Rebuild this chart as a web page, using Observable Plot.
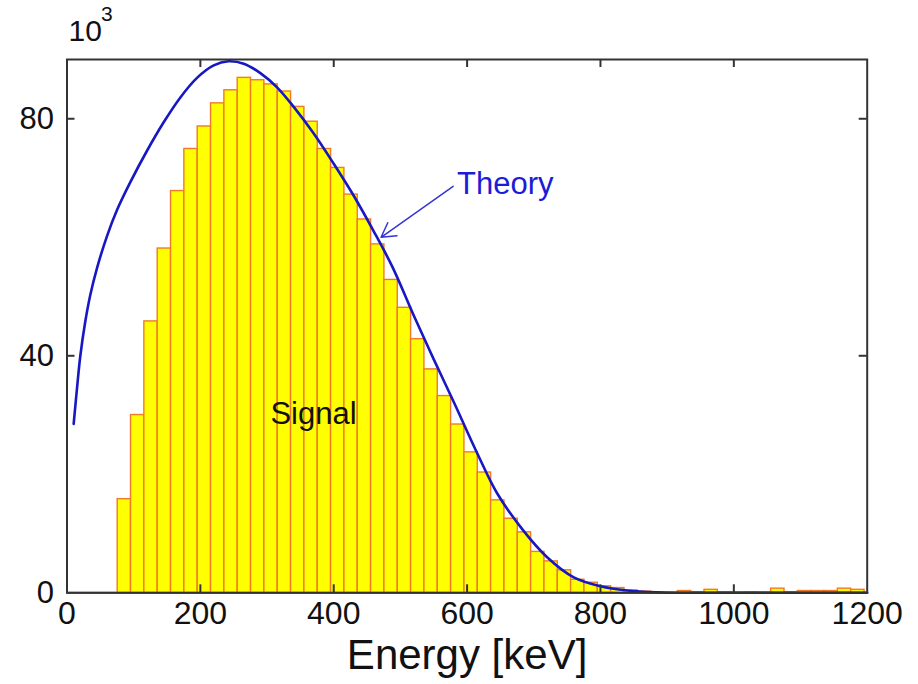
<!DOCTYPE html>
<html><head><meta charset="utf-8">
<script src="https://cdn.jsdelivr.net/npm/d3@7"></script>
<script src="https://cdn.jsdelivr.net/npm/@observablehq/plot@0.6"></script>
<style>body{margin:0;background:#fff}</style>
</head><body><div id="chart"></div>
<script>
// Histogram bins (lower edge, keV) and counts (x10^3)
const binLow = [76,96,116,136,156,176,196,216,236,256,276,296,316,336,356,376,396,416,436,456,476,496,516,536,556,576,596,616,636,656,676,696,716,736,756,776,796,816,836,856,876,896,916,936,956,976,996,1016,1036,1056,1076,1096,1116,1136,1156,1176];
const binWidth = 20;
const counts = [15.8,30.0,45.8,58.1,67.8,74.9,78.7,82.6,84.8,86.9,86.5,85.8,84.6,82.0,79.5,74.9,71.7,67.2,63.0,58.8,52.8,48.1,42.8,37.7,33.2,28.4,23.7,20.3,15.6,12.5,10.2,6.9,5.3,3.8,2.2,1.7,1.1,0.8,0.4,0.2,0.05,0,0.3,0.1,0.5,0.1,0.05,0.1,0.05,0.7,0.1,0.3,0.3,0.3,0.7,0.5];
// Theory curve (keV, x10^3)
const theoryE = [10,15,20,27,35,45,60,75,95,120,145,170,195,220,242,265,290,315,340,370,400,430,460,488,520,550,580,615,645,685,720,760,800,840,885,950,1050,1200];
const theoryN = [28.5,34.5,40.0,45.5,50.3,54.8,60.2,64.6,69.3,74.6,79.4,83.6,86.9,89.0,89.7,89.3,87.7,85.3,82.0,77.5,72.4,67.0,61.0,55.0,46.8,39.4,32.2,23.6,16.8,10.4,6.0,2.6,1.1,0.4,0.1,0,0,0];
const xTicks = [0,200,400,600,800,1000,1200];
const yTicks = [0,40,80];
const labelText = ["Theory","Signal"];
const labelE = [585,305];
const labelN = [68.9,30.2];
const arrowFrom = {e:579, n:68.6};
const arrowTo = {e:471, n:60.0};

const bins = binLow.map((x, i) => ({x1: x, x2: x + binWidth, n: counts[i]}));
const theory = theoryE.map((e, i) => ({e, n: theoryN[i]}));
const labels = labelText.map((t, i) => ({t, e: labelE[i], n: labelN[i]}));

const W = 918, H = 684;
const mL = 66.5, mR = 51.3, mT = 59, mB = 91.7;
const fH = H - mT - mB, fW = W - mL - mR;
const tick = 8, axisColor = "#333";

const chart = Plot.plot({
  width: W, height: H,
  marginLeft: mL, marginRight: mR, marginTop: mT, marginBottom: mB,
  style: {fontFamily: "'Liberation Sans', Arial, Helvetica, sans-serif", background: "#fff", color: "#111"},
  x: {domain: [0, 1200]},
  y: {domain: [0, 90]},
  marks: [
    Plot.ruleY([0], {stroke: "#e02a20", strokeWidth: 2}),
    Plot.rectY(bins, {x1: "x1", x2: "x2", y: "n", fill: "#ffff00", stroke: "#f07a28", strokeWidth: 1.4}),
    Plot.line(theory, {x: "e", y: "n", stroke: "#1717c4", strokeWidth: 2.6, curve: "catmull-rom"}),
    Plot.arrow([0], {x1: () => arrowFrom.e, y1: () => arrowFrom.n, x2: () => arrowTo.e, y2: () => arrowTo.n, stroke: "#3535d8", strokeWidth: 1.5, headLength: 16, bend: 0}),
    Plot.text(labels, {x: "e", y: "n", text: "t", textAnchor: "start", fontSize: 31, fill: d => d.t === "Theory" ? "#1c1cd8" : "#111"}),
    Plot.frame({stroke: axisColor, strokeWidth: 2}),
    Plot.tickX(xTicks.slice(1, -1), {x: d => d, insetTop: fH - tick, stroke: axisColor, strokeWidth: 2}),
    Plot.tickX(xTicks.slice(1, -1), {x: d => d, insetBottom: fH - tick, stroke: axisColor, strokeWidth: 2}),
    Plot.tickY(yTicks.slice(1), {y: d => d, insetRight: fW - tick, stroke: axisColor, strokeWidth: 2}),
    Plot.tickY(yTicks.slice(1), {y: d => d, insetLeft: fW - tick, stroke: axisColor, strokeWidth: 2}),
    Plot.axisX(xTicks, {tickSize: 0, tickPadding: 8, fontSize: 32, label: null, fill: "#111", tickFormat: d => String(d)}),
    Plot.axisY(yTicks, {tickSize: 0, tickPadding: 13, fontSize: 31, label: null, fill: "#111", tickFormat: d => String(d)}),
    Plot.text(["10"], {text: d => d, frameAnchor: "top-left", textAnchor: "start", dx: 1.5, dy: -40, fontSize: 30, fill: "#111"}),
    Plot.text(["3"], {text: d => d, frameAnchor: "top-left", textAnchor: "start", dx: 34, dy: -53, fontSize: 21, fill: "#111"}),
    Plot.text(["Energy [keV]"], {text: d => d, frameAnchor: "bottom", dy: 76, fontSize: 42, fill: "#111"})
  ]
});
document.getElementById("chart").appendChild(chart);
</script>
</body></html>
